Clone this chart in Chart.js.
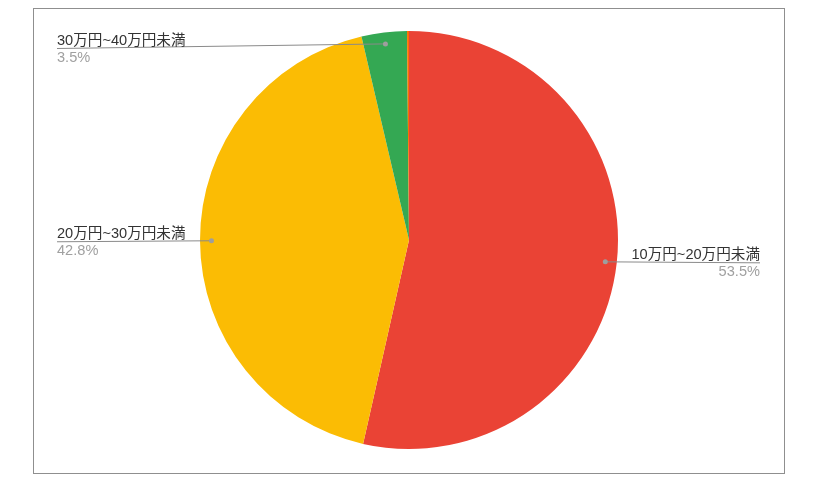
<!DOCTYPE html>
<html>
<head>
<meta charset="utf-8">
<script src="https://cdn.jsdelivr.net/npm/chart.js@4.4.1/dist/chart.umd.min.js"></script>
<style>
  html, body { margin: 0; padding: 0; background: #ffffff; }
  #wrap { position: absolute; left: 0; top: 0; width: 817px; height: 501px; }
</style>
</head>
<body>
<div id="wrap"><canvas id="c"></canvas></div>
<script>
const categories = ['10万円~20万円未満', '20万円~30万円未満', '30万円~40万円未満', '40万円以上'];
const shares = [53.5, 42.8, 3.5, 0.15];
const sliceColors = ['#ea4335', '#fbbc04', '#34a853', '#ff6d01'];

const FONT = '"Liberation Sans", Arial, "Noto Sans CJK JP", sans-serif';

const labelPlugin = {
  id: 'pieLabels',
  afterDraw(chart) {
    const ctx = chart.ctx;
    // frame
    ctx.save();
    ctx.strokeStyle = '#8f8f8f';
    ctx.lineWidth = 1;
    ctx.strokeRect(33.5, 8.5, 751, 465);
    ctx.restore();

    const meta = chart.getDatasetMeta(0);
    const data = chart.data.datasets[0].data;
    const total = data.reduce((a, b) => a + b, 0);
    meta.data.forEach((arc, i) => {
      const pct = data[i] / total * 100;
      if (pct < 1) return;
      const mid = (arc.startAngle + arc.endAngle) / 2;
      const r = arc.outerRadius * 0.945;
      const dx = arc.x + Math.cos(mid) * r;
      const dy = arc.y + Math.sin(mid) * r;
      const right = Math.cos(mid) >= 0;
      const lineY = Math.max(dy + 1, 48.5);
      const endX = right ? 760 : 57;
      ctx.save();
      ctx.strokeStyle = '#8a8a8a';
      ctx.lineWidth = 1;
      ctx.beginPath();
      ctx.moveTo(dx, dy);
      ctx.lineTo(endX, lineY);
      ctx.stroke();
      ctx.fillStyle = '#9e9e9e';
      ctx.beginPath();
      ctx.arc(dx, dy, 2.5, 0, Math.PI * 2);
      ctx.fill();
      ctx.font = '14.6px ' + FONT;
      ctx.textAlign = right ? 'right' : 'left';
      ctx.textBaseline = 'alphabetic';
      ctx.fillStyle = '#333333';
      ctx.fillText(chart.data.labels[i], endX, lineY - 3.8);
      ctx.fillStyle = '#a0a0a0';
      ctx.fillText(pct.toFixed(1) + '%', endX, lineY + 13.5);
      ctx.restore();
    });
  }
};

new Chart(document.getElementById('c'), {
  type: 'pie',
  data: {
    labels: categories,
    datasets: [{
      data: shares,
      backgroundColor: sliceColors,
      borderWidth: 0
    }]
  },
  options: {
    responsive: true,
    maintainAspectRatio: false,
    animation: false,
    layout: { padding: { top: 31, bottom: 52, left: 200, right: 199 } },
    plugins: {
      legend: { display: false },
      tooltip: { enabled: false }
    }
  },
  plugins: [labelPlugin]
});
</script>
</body>
</html>
